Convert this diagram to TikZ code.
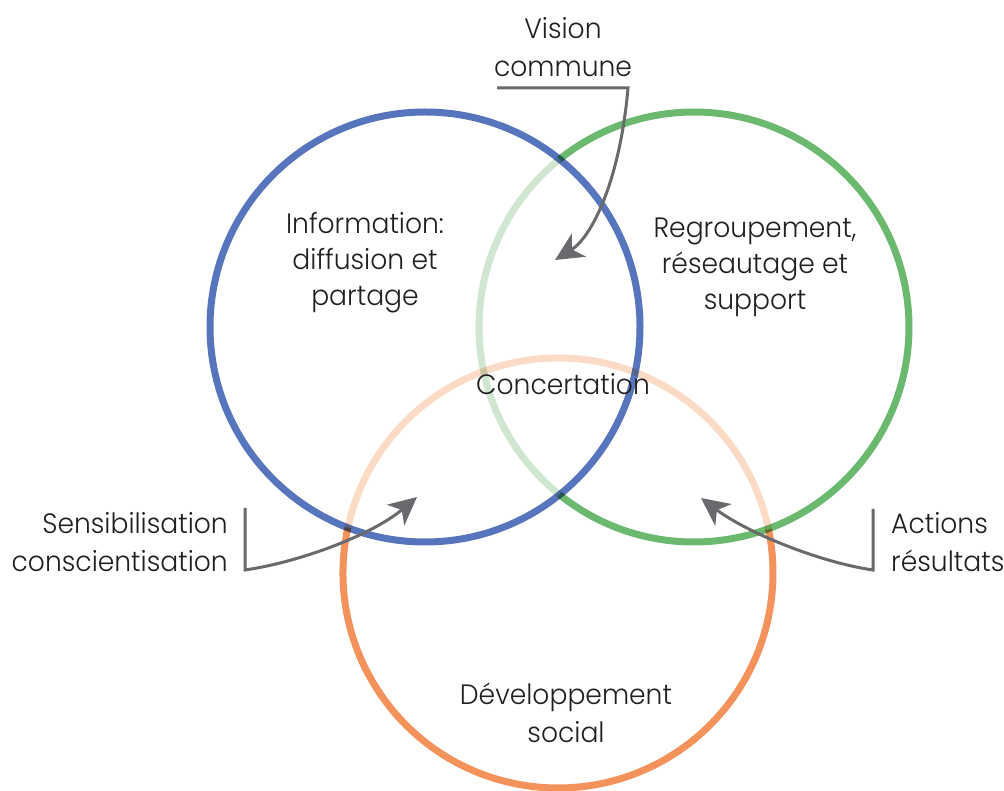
\documentclass[tikz,border=0pt]{standalone}
\usepackage{fontspec}
\setmainfont{Poppins}[UprightFont={* Light}, FakeStretch=0.95]
\usetikzlibrary{arrows.meta}
\definecolor{blueC}{RGB}{87,117,188}
\definecolor{greenC}{RGB}{106,185,110}
\definecolor{greenL}{RGB}{208,230,208}
\definecolor{orangeC}{RGB}{244,146,92}
\definecolor{orangeL}{RGB}{252,219,198}
\definecolor{grayC}{RGB}{105,105,110}
\definecolor{textC}{RGB}{35,31,32}
\begin{document}
\begin{tikzpicture}[x=1pt,y=1pt,
  ring/.style={line width=7pt, blend mode=multiply},
  lbl/.style={text=textC, font=\fontsize{28}{38}\selectfont, inner sep=0pt},
  lbltight/.style={lbl, font=\fontsize{28}{36}\selectfont},
  conn/.style={draw=grayC, line width=3pt, line join=miter,
    -{Stealth[length=28pt,width=27pt,inset=8pt]}}]
\useasboundingbox (0,0) rectangle (1004,790);
\coordinate (cb) at (425,463);
\coordinate (cg) at (694,463);
\coordinate (co) at (558,217);
% green circle: faded inside blue
\draw[ring, greenC] (cg) ++(-128.7:215) arc[start angle=-128.7, end angle=128.7, radius=215];
\draw[ring, greenL] (cg) ++(128.7:215) arc[start angle=128.7, end angle=231.3, radius=215];
% orange circle: faded inside blue and green
\draw[ring, orangeC] (co) ++(167.8:215) arc[start angle=167.8, end angle=371.65, radius=215];
\draw[ring, orangeL] (co) ++(11.65:215) arc[start angle=11.65, end angle=167.8, radius=215];
% blue circle
\draw[ring, blueC] (cb) circle[radius=215];

% labels (anchor base = baseline of the last line)
\node[lbl, align=center, anchor=base] (vision) at (563,713) {Vision\\commune};
\node[lbltight, align=center, anchor=base] (info) at (365,484) {Information:\\diffusion et\\partage};
\node[lbltight, align=center, anchor=base] (regr) at (755,480) {Regroupement,\\réseautage et\\support};
\node[lbl, anchor=base] (conc) at (563,395) {Concertation};
\node[lbl, align=center, anchor=base] (dev) at (566,48) {Développement\\social};
\node[lbl, align=right, anchor=base east] (sens) at (228,218) {Sensibilisation\\conscientisation};
\node[lbl, align=left, anchor=base west] (act) at (891,218) {Actions\\résultats};

% connectors
\coordinate (v1) at (497,702);
\coordinate (v2) at (628,702);
\coordinate (vt) at (555,530);
\draw[conn] (v1) -- (v2) .. controls (620,610) and (592,553) .. (vt);
\coordinate (s1) at (245,282);
\coordinate (s2) at (245,220);
\coordinate (st) at (417,293);
\draw[conn] (s1) -- (s2) .. controls (300,228) and (372,255) .. (st);
\coordinate (a1) at (873,281);
\coordinate (a2) at (873,220);
\coordinate (at) at (701,292);
\draw[conn] (a1) -- (a2) .. controls (818,228) and (746,258) .. (at);
\end{tikzpicture}
\end{document}
